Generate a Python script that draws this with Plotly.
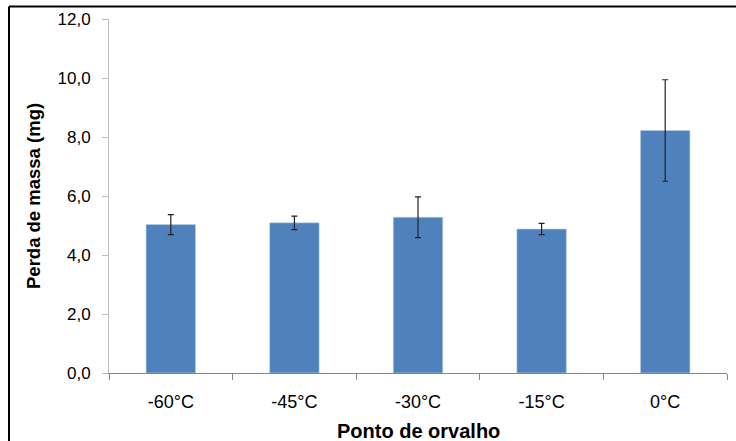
import plotly.graph_objects as go

# Dew point categories and mean mass loss with standard deviation
categorias = ["-60°C", "-45°C", "-30°C", "-15°C", "0°C"]
perda_massa = [5.03, 5.09, 5.28, 4.88, 8.22]
desvio = [0.34, 0.23, 0.69, 0.19, 1.72]
y_ticks = [0, 2, 4, 6, 8, 10, 12]
y_tick_labels = ["0,0", "2,0", "4,0", "6,0", "8,0", "10,0", "12,0"]

fonte = "Liberation Sans, Arial, sans-serif"

fig = go.Figure()
fig.add_trace(go.Bar(
    x=categorias,
    y=perda_massa,
    width=0.4,
    marker=dict(color="#4F81BD", line=dict(color="#B9CDE5", width=0.6)),
    error_y=dict(type="data", array=desvio, visible=True,
                 color="#222222", thickness=1.2, width=3),
))

fig.update_layout(
    width=736, height=441,
    margin=dict(l=109, r=9, t=19, b=68),
    paper_bgcolor="white", plot_bgcolor="white",
    showlegend=False,
    font=dict(family=fonte, color="#000000", size=16),
    xaxis=dict(
        showline=True, linecolor="#868686", linewidth=1,
        ticks="outside", tickson="boundaries", ticklen=6, tickcolor="#868686",
        tickfont=dict(size=18), ticklabelstandoff=12, showgrid=False,
        automargin=False,
    ),
    yaxis=dict(
        range=[0, 12], tickvals=y_ticks, ticktext=y_tick_labels,
        showline=True, linecolor="#BFBFBF", linewidth=1,
        ticks="outside", ticklen=6, tickcolor="#BFBFBF",
        tickfont=dict(size=17), ticklabelstandoff=8, showgrid=False, zeroline=False,
        automargin=False,
    ),
    annotations=[
        dict(text="<b>Ponto de orvalho</b>", xref="paper", yref="paper",
             x=0.5, y=-0.165, xanchor="center", yanchor="middle",
             showarrow=False, font=dict(size=20)),
        dict(text="<b>Perda de massa (mg)</b>", xref="paper", yref="paper",
             x=-0.123, y=0.5, xanchor="center", yanchor="middle", textangle=-90,
             showarrow=False, font=dict(size=18.5)),
    ],
    shapes=[
        # outer frame (left and top edges; the rest runs past the page)
        dict(type="line", xref="paper", yref="paper",
             x0=-0.1618, x1=1.05, y0=1.035, y1=1.035,
             line=dict(color="black", width=2)),
        dict(type="line", xref="paper", yref="paper",
             x0=-0.1618, x1=-0.1618, y0=1.035, y1=-0.3,
             line=dict(color="black", width=2)),
    ],
)

fig.write_html("out.html")
